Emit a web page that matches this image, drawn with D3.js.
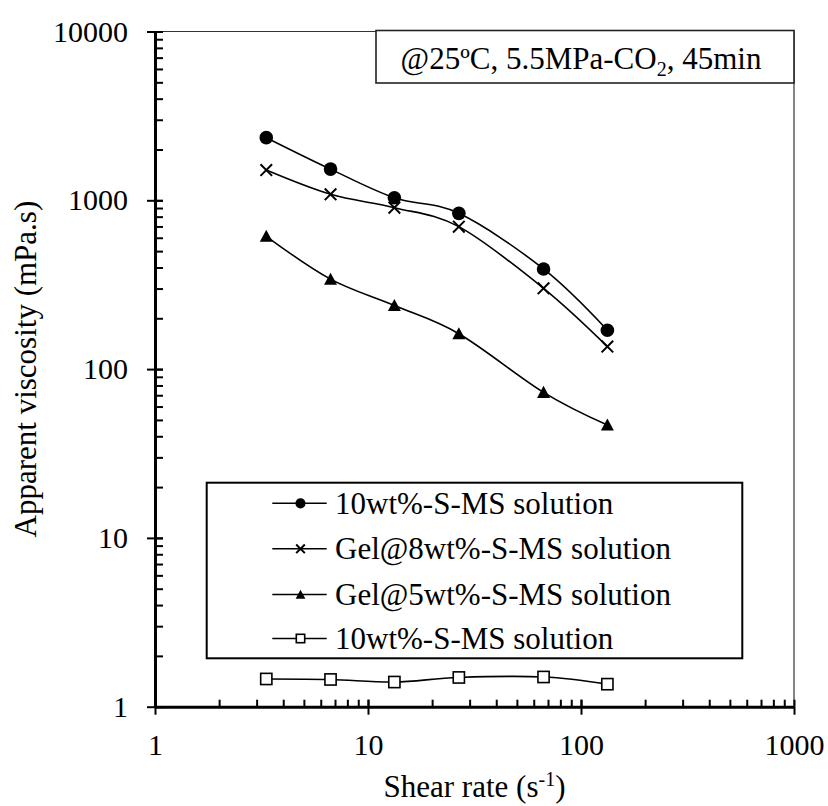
<!DOCTYPE html>
<html>
<head>
<meta charset="utf-8">
<script src="https://cdn.jsdelivr.net/npm/d3@7"></script>
<style>
  html, body { margin: 0; padding: 0; background: #fff; }
</style>
</head>
<body>
<svg id="chart" width="828" height="806"></svg>
<script>
// ---- Data ----
const shearRate = [3.33, 6.67, 13.3, 26.7, 66.7, 133];
const seriesNames = ["10wt%-S-MS solution", "Gel@8wt%-S-MS solution", "Gel@5wt%-S-MS solution", "10wt%-S-MS solution"];
const visc10 = [2350, 1530, 1035, 837, 392, 170];
const viscGel8 = [1510, 1085, 904, 698, 301, 136];
const viscGel5 = [612, 341, 238, 162, 72.8, 46.6];
const viscSol = [1.46, 1.45, 1.40, 1.49, 1.50, 1.36];
const xTicks = [1, 10, 100, 1000];
const yTicks = [1, 10, 100, 1000, 10000];
const markerTypes = ["circle", "cross", "triangle", "square"];

(function () {
const FONT = '"Liberation Serif"';
const svg = d3.select("#chart");
const pL = 155, pR = 794, pT = 31.5, pB = 706.7;

const x = d3.scaleLog().domain([1, 1000]).range([pL, pR]);
const y = d3.scaleLog().domain([1, 10000]).range([pB, pT]);

const xMinor = [];
for (let d = 1; d < 1000; d *= 10) for (let k = 1; k <= 10; k++) xMinor.push(d * k);
const yMinor = [];
for (let d = 1; d < 10000; d *= 10) for (let k = 1; k <= 10; k++) yMinor.push(d * k);

svg.append("line").attr("x1", pL).attr("x2", pR).attr("y1", pT).attr("y2", pT)
  .attr("stroke", "#333").attr("stroke-width", 1.2);
svg.append("line").attr("x1", pR).attr("x2", pR).attr("y1", pT).attr("y2", pB)
  .attr("stroke", "#333").attr("stroke-width", 1.2);

const yAxisG = svg.append("g").attr("transform", `translate(${pL},0)`)
  .call(d3.axisLeft(y).tickValues(yTicks).tickFormat(d3.format("d")).tickSizeInner(8).tickSizeOuter(0).tickPadding(19));
const yAxisIn = svg.append("g").attr("transform", `translate(${pL},0)`)
  .call(d3.axisRight(y).tickValues(yMinor).tickFormat("").tickSizeInner(8).tickSizeOuter(0));

const xAxisG = svg.append("g").attr("transform", `translate(0,${pB})`)
  .call(d3.axisBottom(x).tickValues(xTicks).tickFormat(d3.format("d")).tickSizeInner(8).tickSizeOuter(0).tickPadding(19));
const xAxisIn = svg.append("g").attr("transform", `translate(0,${pB})`)
  .call(d3.axisTop(x).tickValues(xMinor).tickFormat("").tickSizeInner(7).tickSizeOuter(0));

[yAxisG, yAxisIn, xAxisG, xAxisIn].forEach(g => {
  g.attr("font-family", null).attr("font-size", null);
  g.select(".domain").attr("stroke", "#000").attr("stroke-width", 3);
  g.selectAll(".tick line").attr("stroke", "#000").attr("stroke-width", 2);
  g.selectAll("text").style("font-family", FONT).style("font-size", "30px").attr("fill", "#000");
});
yAxisIn.select(".domain").remove();
xAxisIn.select(".domain").remove();

const xt = svg.append("text").attr("x", (pL + pR) / 2).attr("y", 797)
  .attr("text-anchor", "middle").style("font-family", FONT).style("font-size", "31px").attr("fill", "#000");
xt.append("tspan").text("Shear rate (s");
xt.append("tspan").style("font-size", "20px").attr("dy", -11).text("-1");
xt.append("tspan").attr("dy", 11).text(")");

svg.append("text").attr("transform", `translate(36,${(pT + pB) / 2}) rotate(-90)`)
  .attr("text-anchor", "middle").style("font-family", FONT).style("font-size", "31px").attr("fill", "#000")
  .text("Apparent viscosity (mPa.s)");

const allSeries = [visc10, viscGel8, viscGel5, viscSol];
const line = d3.line().x((d, i) => x(shearRate[i])).y(d => y(d)).curve(d3.curveCardinal.tension(0));

function drawMarker(g, type, cx, cy, s) {
  if (type === "circle") {
    g.append("circle").attr("cx", cx).attr("cy", cy).attr("r", 6.8 * s).attr("fill", "#000");
  } else if (type === "cross") {
    const h = 5.8 * s;
    g.append("path").attr("d", `M${cx - h},${cy - h}L${cx + h},${cy + h}M${cx - h},${cy + h}L${cx + h},${cy - h}`)
      .attr("stroke", "#000").attr("stroke-width", 2).attr("fill", "none");
  } else if (type === "triangle") {
    const h = 6.5 * s;
    g.append("path").attr("d", `M${cx},${cy - h}L${cx + h},${cy + h * 0.85}L${cx - h},${cy + h * 0.85}Z`)
      .attr("fill", "#000");
  } else if (type === "square") {
    const h = 5.6 * s;
    g.append("rect").attr("x", cx - h).attr("y", cy - h).attr("width", 2 * h).attr("height", 2 * h)
      .attr("fill", "#fff").attr("stroke", "#000").attr("stroke-width", 1.6);
  }
}

allSeries.forEach((vals, si) => {
  const g = svg.append("g");
  g.append("path").attr("d", line(vals)).attr("fill", "none").attr("stroke", "#000").attr("stroke-width", 1.6);
  vals.forEach((v, i) => drawMarker(g, markerTypes[si], x(shearRate[i]), y(v), 1));
});

const lg = svg.append("g");
lg.append("rect").attr("x", 206.7).attr("y", 482.7).attr("width", 742.3 - 206.7).attr("height", 658.3 - 482.7)
  .attr("fill", "#fff").attr("stroke", "#000").attr("stroke-width", 2);
const rowY = [503.3, 548.8, 594.5, 638.5];
seriesNames.forEach((name, i) => {
  const ry = rowY[i];
  lg.append("line").attr("x1", 272.3).attr("x2", 326.7).attr("y1", ry).attr("y2", ry)
    .attr("stroke", "#000").attr("stroke-width", 1.6);
  drawMarker(lg, markerTypes[i], 300.5, ry, 0.75);
  lg.append("text").attr("x", 335).attr("y", ry + 10.5).style("font-family", FONT).style("font-size", "31px")
    .attr("fill", "#000").text(name);
});

const ag = svg.append("g");
ag.append("rect").attr("x", 376).attr("y", 30.5).attr("width", 794 - 376).attr("height", 83 - 30.5)
  .attr("fill", "#fff").attr("stroke", "#222").attr("stroke-width", 1.6);
const at = ag.append("text").attr("x", 581).attr("y", 68.5).attr("text-anchor", "middle")
  .style("font-family", FONT).style("font-size", "31px").attr("fill", "#000");
at.append("tspan").text("@25ºC, 5.5MPa-CO");
at.append("tspan").style("font-size", "20px").attr("dy", 7).text("2");
at.append("tspan").attr("dy", -7).text(", 45min");
})();
</script>
</body>
</html>
